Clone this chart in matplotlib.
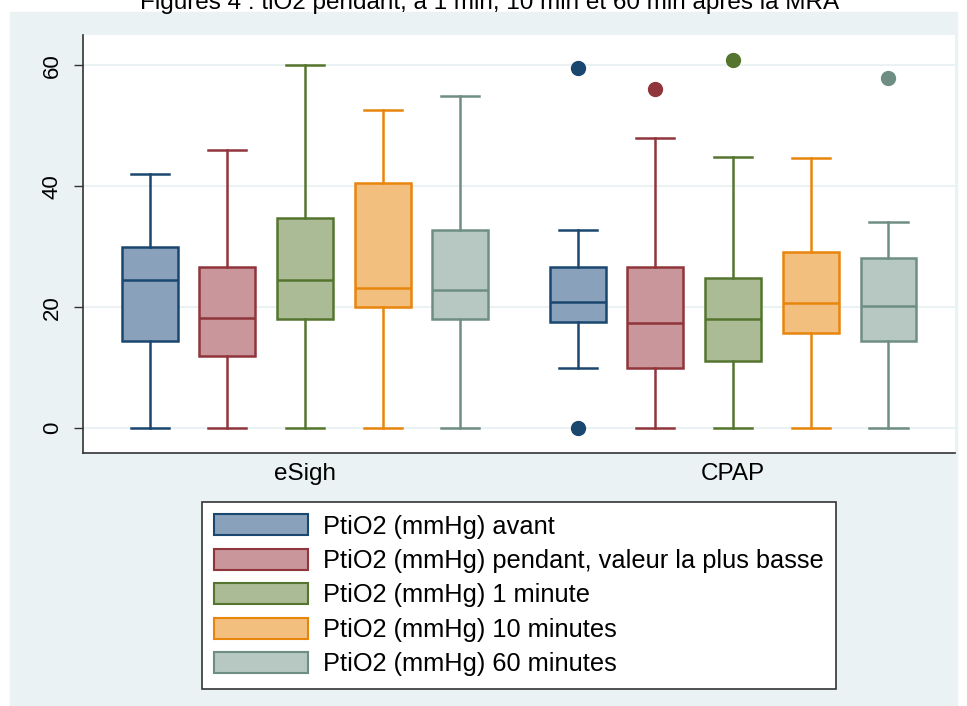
import matplotlib.pyplot as plt
from matplotlib.patches import Rectangle, Patch

plt.rcParams['font.family'] = ['Liberation Sans', 'DejaVu Sans']

# donnees
groupes = ["eSigh", "CPAP"]
series = [
    "PtiO2 (mmHg) avant",
    "PtiO2 (mmHg) pendant, valeur la plus basse",
    "PtiO2 (mmHg) 1 minute",
    "PtiO2 (mmHg) 10 minutes",
    "PtiO2 (mmHg) 60 minutes",
]

esigh_lo = [0, 0, 0, 0, 0]
esigh_q1 = [14.4, 11.9, 18.1, 20.1, 18.1]
esigh_med = [24.5, 18.2, 24.5, 23.2, 22.8]
esigh_q3 = [30.0, 26.7, 34.7, 40.6, 32.7]
esigh_hi = [42.0, 46.0, 60.0, 52.6, 54.9]
esigh_out = [[], [], [], [], []]

cpap_lo = [9.9, 0, 0, 0, 0]
cpap_q1 = [17.5, 10.0, 11.1, 15.8, 14.4]
cpap_med = [20.9, 17.4, 18.1, 20.7, 20.2]
cpap_q3 = [26.7, 26.7, 24.9, 29.2, 28.2]
cpap_hi = [32.8, 47.9, 44.8, 44.7, 34.1]
cpap_out = [[59.6, 0.0], [56.0], [60.9], [], [57.9]]

bords = ['#1a476f', '#90353b', '#55752f', '#e8850c', '#6e8e84']
remplis = ['#8aa1bb', '#c8969b', '#abbb95', '#f2bf7f', '#b7c8c2']

tableau = {
    "eSigh": (esigh_lo, esigh_q1, esigh_med, esigh_q3, esigh_hi, esigh_out),
    "CPAP": (cpap_lo, cpap_q1, cpap_med, cpap_q3, cpap_hi, cpap_out),
}
centres = [0, 5.51]

fig = plt.figure(figsize=(9.67, 7.06), dpi=100)
fig.patch.set_facecolor('white')
fig.add_artist(Rectangle((10 / 967, 0), 947 / 967, 694 / 706,
                         transform=fig.transFigure, color='#eaf2f3', zorder=-5))

ax = fig.add_axes([83 / 967, 1 - 453 / 706, 872 / 967, 418 / 706])
ax.set_facecolor('white')

for g, c in zip(groupes, centres):
    lo, q1, med, q3, hi, out = tableau[g]
    for j in range(5):
        st = dict(whislo=lo[j], q1=q1[j], med=med[j], q3=q3[j], whishi=hi[j], fliers=out[j])
        ax.bxp([st], positions=[c + j - 2], widths=0.72, capwidths=0.49,
               patch_artist=True, showfliers=True, manage_ticks=False,
               boxprops=dict(facecolor=remplis[j], edgecolor=bords[j], linewidth=1.8),
               whiskerprops=dict(color=bords[j], linewidth=1.8),
               capprops=dict(color=bords[j], linewidth=1.8),
               medianprops=dict(color=bords[j], linewidth=1.8),
               flierprops=dict(marker='o', markerfacecolor=bords[j],
                               markeredgecolor=bords[j], markersize=10))

ax.set_xlim(-2.857, 8.366)
ax.set_ylim(-4.1, 65)
ax.set_yticks([0, 20, 40, 60])
ax.set_yticklabels(['0', '20', '40', '60'], rotation=90, va='center')
ax.set_xticks(centres)
ax.set_xticklabels(groupes)
ax.tick_params(axis='y', length=6.5, width=1, pad=8, labelsize=16, color='#333333')
ax.tick_params(axis='x', length=0, pad=7, labelsize=17.5)
ax.grid(axis='y', color='#eaf2f3', linewidth=1.5, zorder=0)
ax.set_axisbelow(True)
for s in ['top', 'right']:
    ax.spines[s].set_visible(False)
for s in ['left', 'bottom']:
    ax.spines[s].set_color('#333333')
    ax.spines[s].set_linewidth(1.2)

poignees = [Patch(facecolor=remplis[j], edgecolor=bords[j], linewidth=1.5) for j in range(5)]
leg = fig.legend(poignees, series, loc='upper center', bbox_to_anchor=(519 / 967, 1 - 502 / 706),
                 fontsize=18.3, frameon=True, fancybox=False, framealpha=1,
                 handlelength=3.66, handleheight=0.9,
                 labelspacing=0.4, handletextpad=0.6, borderpad=0.48, borderaxespad=0)
leg.get_frame().set_edgecolor('#333333')
leg.get_frame().set_linewidth(1.2)

# titre coupe en haut de l'image
fig.text(490 / 967, 1 - 9 / 706, "Figures 4 : tiO2 pendant, à 1 min, 10 min et 60 min après la MRA",
         ha='center', va='baseline', fontsize=17.5)

fig.savefig("out.png", dpi=100)
